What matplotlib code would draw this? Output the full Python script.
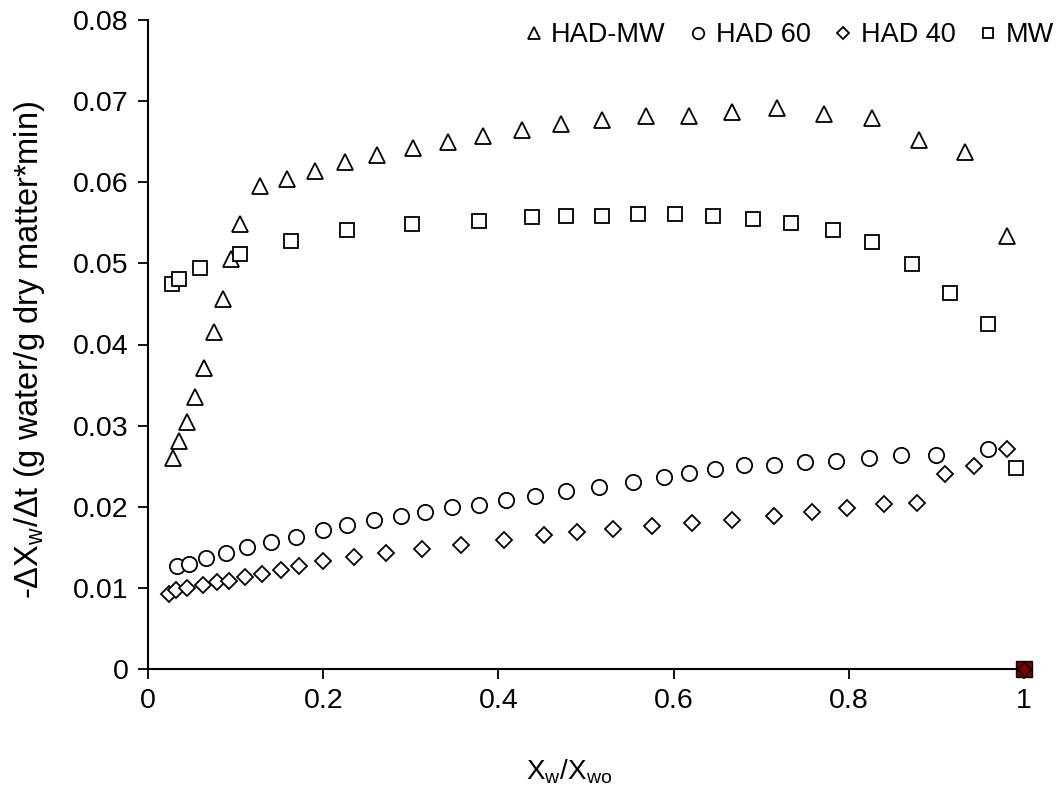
import matplotlib
matplotlib.use("Agg")
import matplotlib.pyplot as plt

plt.rcParams['font.family'] = ['Liberation Sans', 'DejaVu Sans']
plt.rcParams['mathtext.fontset'] = 'custom'
plt.rcParams['mathtext.rm'] = 'Liberation Sans'
plt.rcParams['mathtext.it'] = 'Liberation Sans'

# HAD-MW (triangles)
had_mw_x = [0.0289, 0.0357, 0.0445, 0.0540, 0.0643, 0.0750, 0.0856, 0.0947, 0.1054,
            0.1275, 0.1587, 0.1903, 0.2245, 0.2618, 0.3022, 0.3421, 0.3828, 0.4266,
            0.4715, 0.5186, 0.5682, 0.6172, 0.6663, 0.7177, 0.7717, 0.8261, 0.8798,
            0.9330, 0.9806]
had_mw_y = [0.0260, 0.0281, 0.0305, 0.0335, 0.0371, 0.0415, 0.0456, 0.0506, 0.0549,
            0.0595, 0.0604, 0.0614, 0.0625, 0.0634, 0.0642, 0.0649, 0.0657, 0.0665,
            0.0672, 0.0677, 0.0682, 0.0682, 0.0687, 0.0691, 0.0684, 0.0679, 0.0652,
            0.0637, 0.0534]

# HAD 60 (circles)
had60_x = [0.0327, 0.0472, 0.0662, 0.0887, 0.1134, 0.1400, 0.1693, 0.1998, 0.2268,
           0.2583, 0.2892, 0.3162, 0.3474, 0.3779, 0.4087, 0.4421, 0.4772, 0.5148,
           0.5540, 0.5890, 0.6180, 0.6473, 0.6800, 0.7150, 0.7504, 0.7854, 0.8226,
           0.8600, 0.8990, 0.9593]
had60_y = [0.0127, 0.0130, 0.0137, 0.0143, 0.0150, 0.0157, 0.0163, 0.0171, 0.0177,
           0.0184, 0.0189, 0.0193, 0.0200, 0.0202, 0.0208, 0.0213, 0.0220, 0.0224,
           0.0231, 0.0237, 0.0242, 0.0246, 0.0251, 0.0251, 0.0255, 0.0257, 0.0260,
           0.0264, 0.0264, 0.0271]

# HAD 40 (diamonds)
had40_x = [0.0243, 0.0320, 0.0441, 0.0624, 0.0791, 0.0928, 0.1104, 0.1300, 0.1522,
           0.1724, 0.1994, 0.2355, 0.2717, 0.3128, 0.3573, 0.4068, 0.4517, 0.4900,
           0.5312, 0.5757, 0.6210, 0.6667, 0.7146, 0.7584, 0.7980, 0.8402, 0.8779,
           0.9094, 0.9430, 0.9806]
had40_y = [0.0093, 0.0097, 0.0100, 0.0104, 0.0107, 0.0109, 0.0113, 0.0117, 0.0122,
           0.0127, 0.0133, 0.0138, 0.0143, 0.0148, 0.0153, 0.0159, 0.0165, 0.0169,
           0.0172, 0.0176, 0.0180, 0.0184, 0.0189, 0.0194, 0.0199, 0.0204, 0.0205,
           0.0240, 0.0250, 0.0271]

# MW (squares)
mw_x = [0.0271, 0.0350, 0.0597, 0.1050, 0.1629, 0.2268, 0.3017, 0.3782, 0.4380,
        0.4772, 0.5186, 0.5597, 0.6016, 0.6453, 0.6903, 0.7340, 0.7816, 0.8268,
        0.8725, 0.9159, 0.9592, 0.9905]
mw_y = [0.0474, 0.0481, 0.0494, 0.0512, 0.0528, 0.0541, 0.0548, 0.0552, 0.0557,
        0.0559, 0.0559, 0.0561, 0.0561, 0.0559, 0.0555, 0.0550, 0.0541, 0.0526,
        0.0499, 0.0463, 0.0425, 0.0248]

# end point of drying
end_x = [1.0]
end_y = [0.0]

x_ticks = [0, 0.2, 0.4, 0.6, 0.8, 1]
x_tick_labels = ['0', '0.2', '0.4', '0.6', '0.8', '1']
y_ticks = [0, 0.01, 0.02, 0.03, 0.04, 0.05, 0.06, 0.07, 0.08]
y_tick_labels = ['0', '0.01', '0.02', '0.03', '0.04', '0.05', '0.06', '0.07', '0.08']

fig = plt.figure(figsize=(10.6, 7.96), dpi=100)
ax = fig.add_axes([148 / 1060, 1 - 669 / 796, (1024 - 148) / 1060, (669 - 20) / 796])

common = dict(linestyle='none', markerfacecolor='white', markeredgecolor='black',
              markeredgewidth=1.3, clip_on=False)
ax.plot(had_mw_x, had_mw_y, marker='^', markersize=11, label='HAD-MW', **common)
ax.plot(had60_x, had60_y, marker='o', markersize=11, label='HAD 60', **common)
ax.plot(had40_x, had40_y, marker='D', markersize=8, label='HAD 40', **common)
ax.plot(mw_x, mw_y, marker='s', markersize=10.5, label='MW', **common)

ax.plot(end_x, end_y, marker='s', markersize=11, linestyle='none',
        markerfacecolor='#7a0000', markeredgecolor='black', markeredgewidth=1.0,
        clip_on=False, zorder=5)
ax.plot(end_x, end_y, marker='D', markersize=7, linestyle='none',
        markerfacecolor='#7a0000', markeredgecolor='black', markeredgewidth=1.0,
        clip_on=False, zorder=6)

ax.set_xlim(0, 1)
ax.set_ylim(0, 0.08)
ax.set_xticks(x_ticks)
ax.set_xticklabels(x_tick_labels)
ax.set_yticks(y_ticks)
ax.set_yticklabels(y_tick_labels)
ax.tick_params(direction='out', length=7, width=1.3, labelsize=20.5, pad=7, colors='black')
for side in ('top', 'right'):
    ax.spines[side].set_visible(False)
for side in ('left', 'bottom'):
    ax.spines[side].set_linewidth(1.5)

ax.set_xlabel(r'X$_\mathrm{w}$/X$_\mathrm{wo}$', fontsize=20)
ax.xaxis.set_label_coords((569 - 148) / 876, (669 - 772) / 649)
ax.xaxis.label.set_verticalalignment('center')
ax.set_ylabel(r'-$\Delta$X$_\mathrm{w}$/$\Delta$t (g water/g dry matter*min)',
              fontsize=23.5)
ax.yaxis.set_label_coords((30 - 148) / 876, (669 - 350) / 649)
ax.yaxis.label.set_verticalalignment('center')

handles, labels = ax.get_legend_handles_labels()
leg = fig.legend(handles, labels, loc='center right', ncol=4,
                 bbox_to_anchor=(1054 / 1060, 1 - 35 / 796),
                 frameon=False, fontsize=19.5, markerscale=0.75,
                 handlelength=0.8, handletextpad=0.25, columnspacing=0.8,
                 borderaxespad=0, borderpad=0)

fig.savefig('out.png', dpi=100)
